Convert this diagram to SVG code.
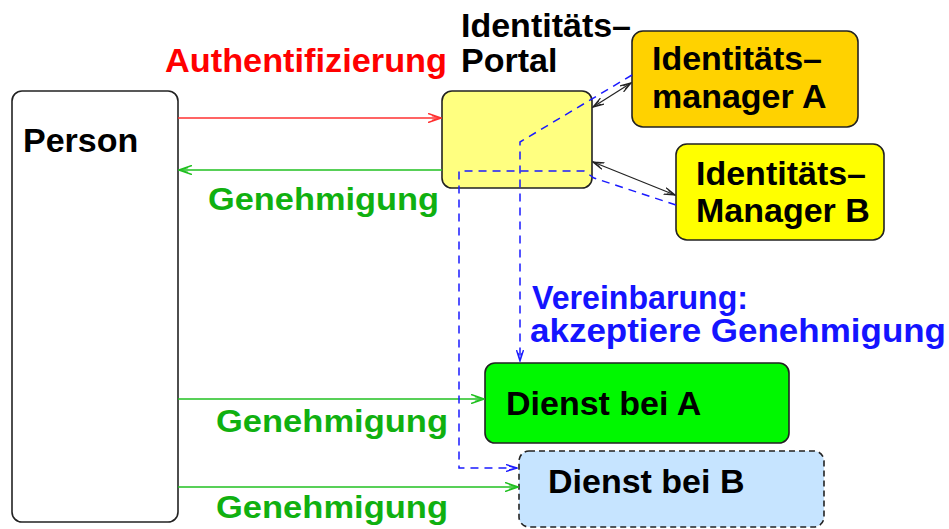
<svg xmlns="http://www.w3.org/2000/svg" width="949" height="529" viewBox="0 0 949 529">
<style>
text{font-family:"Liberation Sans",Arial,Helvetica,sans-serif;font-weight:bold;font-size:34px;fill:#000}
.node{stroke:#222;stroke-width:1.6}
.red{fill:#ff0000}
.grn{fill:#10b010;font-size:31px}
.blu{fill:#1414ff;font-size:33px}
.lr{stroke:#ff3030;stroke-width:1.5;fill:none}
.lg{stroke:#20c020;stroke-width:1.5;fill:none}
.lb{stroke:#1a1aff;stroke-width:1.5;fill:none;stroke-dasharray:8 6}
.lk{stroke:#222;stroke-width:1.2;fill:none}
</style>
<defs>
<marker id="ar" viewBox="0 0 14 10" refX="13" refY="5" markerWidth="14" markerHeight="10" markerUnits="userSpaceOnUse" orient="auto"><path d="M0,0.5 L13,5 L0,9.5 M4,2.5 L13,5 L4,7.5" fill="none" stroke="#ff3030" stroke-width="1.6"/></marker>
<marker id="ag" viewBox="0 0 14 10" refX="13" refY="5" markerWidth="14" markerHeight="10" markerUnits="userSpaceOnUse" orient="auto"><path d="M0,0.5 L13,5 L0,9.5 M4,2.5 L13,5 L4,7.5" fill="none" stroke="#20c020" stroke-width="1.6"/></marker>
<marker id="ab" viewBox="0 0 12 8" refX="11" refY="4" markerWidth="12" markerHeight="8" markerUnits="userSpaceOnUse" orient="auto"><path d="M0,0.5 L11,4 L0,7.5 M3,2 L11,4 L3,6" fill="none" stroke="#1a1aff" stroke-width="1.4"/></marker>
<marker id="ak" viewBox="0 0 12 8" refX="11" refY="4" markerWidth="12" markerHeight="8" markerUnits="userSpaceOnUse" orient="auto-start-reverse"><path d="M0,0.5 L11,4 L0,7.5 M3,2 L11,4 L3,6" fill="none" stroke="#222" stroke-width="1.3"/></marker>
</defs>

<g id="person">
<rect class="node" x="12" y="91" width="166" height="431" rx="10" fill="#ffffff"/>
<text x="23" y="152">Person</text>
</g>

<g id="portal">
<rect class="node" x="442" y="91" width="150" height="97" rx="10" fill="#ffff80"/>
<text x="461" y="37">Identitäts–</text>
<text x="461" y="72">Portal</text>
</g>

<g id="managerA">
<rect class="node" x="632" y="31" width="226" height="96" rx="11" fill="#ffd200"/>
<text x="652" y="70">Identitäts–</text>
<text x="652" y="108">manager A</text>
</g>

<g id="managerB">
<rect class="node" x="676" y="144" width="208" height="96" rx="11" fill="#ffff00"/>
<text x="696" y="185">Identitäts–</text>
<text x="696" y="222">Manager B</text>
</g>

<g id="dienstA">
<rect class="node" x="485" y="363" width="304" height="80" rx="10" fill="#00f800"/>
<text x="506" y="415">Dienst bei A</text>
</g>

<g id="dienstB">
<rect class="node" x="519" y="451" width="305" height="76" rx="10" fill="#c6e4ff" stroke-dasharray="6 4"/>
<text x="548" y="493">Dienst bei B</text>
</g>

<g id="connectors">
<line class="lr" x1="178" y1="118" x2="441" y2="118" marker-end="url(#ar)"/>
<text class="red" x="165" y="72" textLength="282" lengthAdjust="spacingAndGlyphs">Authentifizierung</text>
<line class="lg" x1="442" y1="170" x2="179" y2="170" marker-end="url(#ag)"/>
<text class="grn" x="208" y="210" textLength="231" lengthAdjust="spacingAndGlyphs">Genehmigung</text>
<line class="lg" x1="178" y1="399" x2="484" y2="399" marker-end="url(#ag)"/>
<text class="grn" x="216" y="432" textLength="232" lengthAdjust="spacingAndGlyphs">Genehmigung</text>
<line class="lg" x1="178" y1="487" x2="518" y2="487" marker-end="url(#ag)"/>
<text class="grn" x="216" y="518" textLength="232" lengthAdjust="spacingAndGlyphs">Genehmigung</text>
<line class="lk" x1="593" y1="107" x2="631" y2="83" marker-start="url(#ak)" marker-end="url(#ak)"/>
<line class="lk" x1="593" y1="162" x2="675" y2="195" marker-start="url(#ak)" marker-end="url(#ak)"/>
<path class="lb" d="M676,205 L594,178 L584,171 L459,171 L459,468 L517,468" marker-end="url(#ab)"/>
<path class="lb" d="M632,75 L520,142 L520,361" marker-end="url(#ab)"/>
<text class="blu" x="532" y="309" textLength="216" lengthAdjust="spacingAndGlyphs">Vereinbarung:</text>
<text class="blu" x="530" y="342" textLength="416" lengthAdjust="spacingAndGlyphs">akzeptiere Genehmigung</text>
</g>
</svg>
